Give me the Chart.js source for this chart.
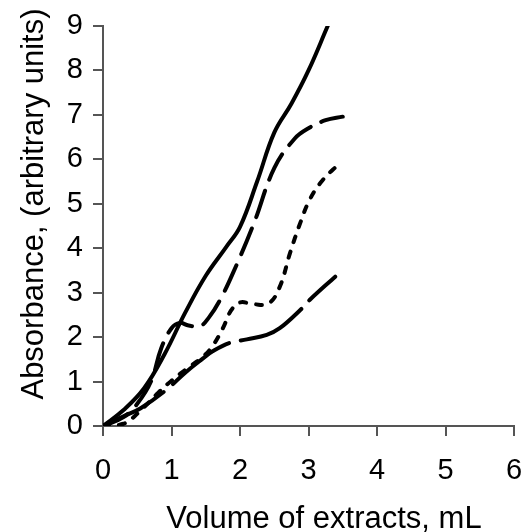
<!DOCTYPE html>
<html>
<head>
<meta charset="utf-8">
<script src="https://cdn.jsdelivr.net/npm/chart.js@4.4.0/dist/chart.umd.min.js"></script>
<style>
  html, body { margin: 0; padding: 0; background: #fff; }
  #wrap { width: 525px; height: 532px; }
</style>
</head>
<body>
<div id="wrap"><canvas id="absChart" width="525" height="532"></canvas></div>
<script>
// Absorbance vs. volume of extract, four extracts
const volA = [0, 0.3, 0.6, 0.9, 1.2, 1.5, 1.8, 2.0, 2.25, 2.5, 2.75, 3.0, 3.28];
const absA = [0, 0.36, 0.85, 1.62, 2.55, 3.38, 4.03, 4.48, 5.5, 6.6, 7.25, 8.0, 9.0];

const volB = [0, 0.3, 0.5, 0.7, 0.85, 1.0, 1.12, 1.25, 1.42, 1.55, 1.71, 1.9, 2.2, 2.5, 2.8, 3.0, 3.25, 3.5];
const absB = [0, 0.2, 0.5, 1.0, 1.75, 2.2, 2.32, 2.26, 2.25, 2.45, 2.84, 3.45, 4.55, 5.8, 6.47, 6.7, 6.88, 6.96];

const volC = [0, 0.3, 0.55, 0.8, 1.0, 1.25, 1.46, 1.6, 1.75, 1.87, 2.0, 2.2, 2.42, 2.58, 2.73, 2.88, 3.02, 3.2, 3.46];
const absC = [0, 0.05, 0.35, 0.74, 1.02, 1.32, 1.56, 1.8, 2.2, 2.6, 2.78, 2.74, 2.76, 3.13, 3.89, 4.57, 5.1, 5.52, 5.92];

const volD = [0, 0.3, 0.55, 0.93, 1.2, 1.46, 1.6, 1.85, 2.1, 2.39, 2.58, 2.88, 3.02, 3.39];
const absD = [0, 0.22, 0.4, 0.82, 1.2, 1.52, 1.68, 1.87, 1.95, 2.05, 2.2, 2.61, 2.84, 3.36];

const xTicks = [0, 1, 2, 3, 4, 5, 6];
const yTicks = [0, 1, 2, 3, 4, 5, 6, 7, 8, 9];

const xTitle = 'Volume of extracts, mL';
const yTitle = 'Absorbance, (arbitrary units)';

const FONT = "'Liberation Sans', Arial, sans-serif";
const AXIS = '#555555';

function points(xs, ys) {
    return xs.map((x, i) => ({ x: x, y: ys[i] }));
}

function series(xs, ys, dash) {
    return {
        data: points(xs, ys),
        borderColor: '#000',
        borderWidth: 4,
        borderDash: dash,
        borderCapStyle: 'round',
        borderJoinStyle: 'round',
        pointRadius: 0,
        tension: 0.4,
        fill: false
    };
}

// Axis titles sit a little off-centre, so they are drawn here
const axisTitles = {
    id: 'axisTitles',
    afterDraw(chart) {
        const ctx = chart.ctx;
        const area = chart.chartArea;
        ctx.save();
        ctx.fillStyle = '#000';
        ctx.textAlign = 'center';
        ctx.textBaseline = 'alphabetic';
        ctx.font = '31px ' + FONT;
        ctx.fillText(xTitle, area.left + 221, 528);
        ctx.translate(43, area.top + 178);
        ctx.rotate(-Math.PI / 2);
        ctx.fillText(yTitle, 0, 0);
        ctx.restore();
    }
};

new Chart(document.getElementById('absChart').getContext('2d'), {
    type: 'line',
    data: {
        datasets: [
            series(volA, absA, []),
            series(volB, absB, [28, 12]),
            series(volC, absC, [6, 10]),
            series(volD, absD, [70, 12])
        ]
    },
    options: {
        responsive: false,
        animation: false,
        devicePixelRatio: 1,
        layout: { padding: { top: 26, right: 11, left: 0, bottom: 0 } },
        plugins: {
            legend: { display: false },
            tooltip: { enabled: false }
        },
        scales: {
            x: {
                type: 'linear',
                min: 0,
                max: 6,
                afterBuildTicks: axis => { axis.ticks = xTicks.map(v => ({ value: v })); },
                afterFit: axis => {
                    axis.height = 106;
                    axis.paddingLeft = 0;
                    axis.paddingRight = 0;
                },
                border: { color: AXIS, width: 2 },
                grid: { drawOnChartArea: false, tickLength: 10, color: AXIS, lineWidth: 2 },
                ticks: {
                    color: '#000',
                    padding: 18,
                    maxRotation: 0,
                    font: { family: FONT, size: 29 }
                }
            },
            y: {
                type: 'linear',
                min: 0,
                max: 9,
                afterBuildTicks: axis => { axis.ticks = yTicks.map(v => ({ value: v })); },
                afterFit: axis => {
                    axis.width = 103;
                    axis.paddingTop = 0;
                    axis.paddingBottom = 0;
                },
                border: { color: AXIS, width: 2 },
                grid: { drawOnChartArea: false, tickLength: 10, color: AXIS, lineWidth: 2 },
                ticks: {
                    color: '#000',
                    padding: 10,
                    font: { family: FONT, size: 29 }
                }
            }
        }
    },
    plugins: [axisTitles]
});
</script>
</body>
</html>
